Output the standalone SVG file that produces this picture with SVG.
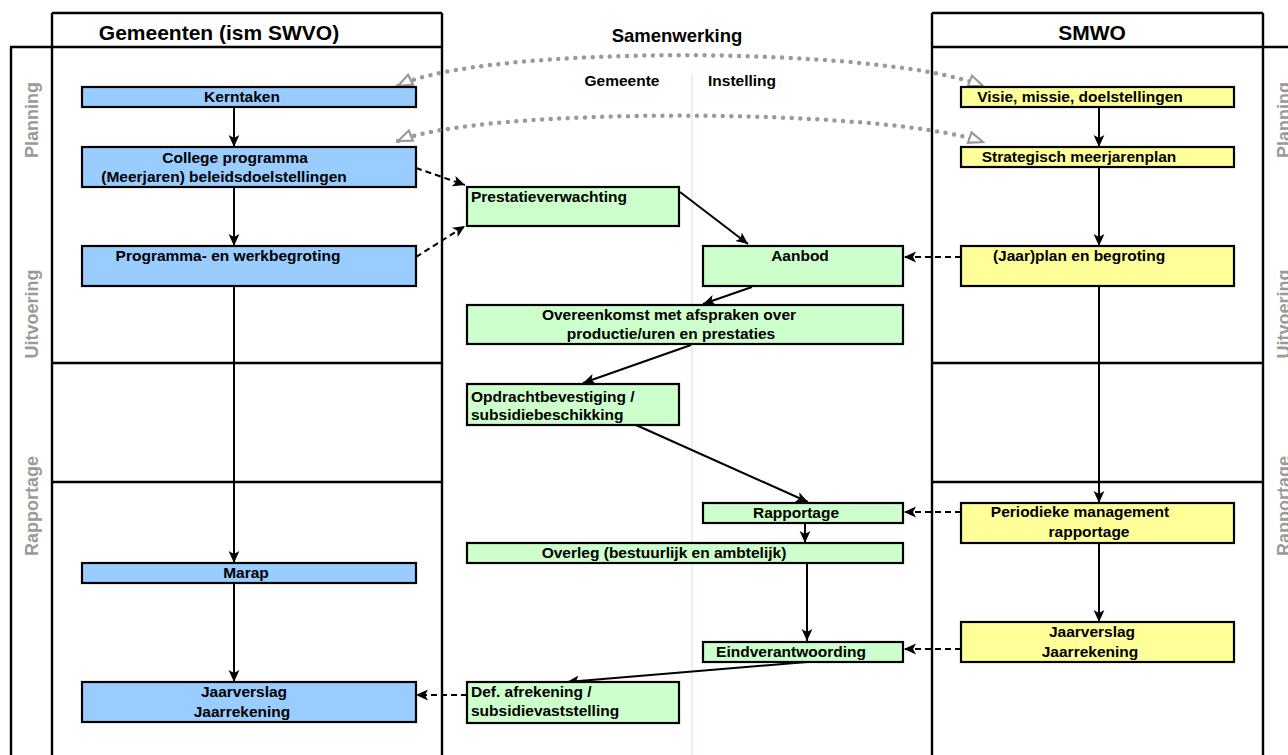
<svg xmlns="http://www.w3.org/2000/svg" width="1288" height="755" viewBox="0 0 1288 755">
<defs>
<style>
.frame{stroke:#000;stroke-width:2.4;fill:none}
.node rect{stroke:#000;stroke-width:2.2}
.blue{fill:#99ccff}
.green{fill:#ccffcc}
.yellow{fill:#ffff99}
text{font-family:"Liberation Sans",Arial,sans-serif;font-weight:bold;fill:#000}
.t{font-size:15.5px}
.mid{text-anchor:middle}
.phase{font-size:18px;fill:#9a9a9a;text-anchor:middle}
.solid{stroke:#000;stroke-width:2;fill:none;marker-end:url(#ah)}
.dash{stroke:#000;stroke-width:2;fill:none;stroke-dasharray:6 4;marker-end:url(#ah)}
.dots{stroke:#9a9a9a;stroke-width:4.5;fill:none;stroke-linecap:round;stroke-dasharray:0 8.6;marker-start:url(#gh);marker-end:url(#gh)}
</style>
<marker id="ah" markerUnits="userSpaceOnUse" markerWidth="12" markerHeight="12" viewBox="0 0 10 10" refX="10" refY="5" orient="auto">
<path d="M0,0.5 L10,5 L0,9.5 L2.5,5 z" fill="#000"/>
</marker>
<marker id="gh" markerUnits="userSpaceOnUse" markerWidth="18" markerHeight="14" viewBox="0 0 18 14" refX="16" refY="7" orient="auto-start-reverse">
<path d="M2,1.5 L16,7 L2,12.5 z" fill="#fff" stroke="#9a9a9a" stroke-width="2.2"/>
</marker>
</defs>
<rect x="0" y="0" width="1288" height="755" fill="#fff"/>

<g id="frame">
<line class="frame" x1="11" y1="47" x2="11" y2="760"/>
<line class="frame" x1="52" y1="13" x2="52" y2="760"/>
<line class="frame" x1="442" y1="13" x2="442" y2="760"/>
<line class="frame" x1="52" y1="13" x2="442" y2="13"/>
<line class="frame" x1="10" y1="47" x2="442" y2="47"/>
<line class="frame" x1="52" y1="363" x2="442" y2="363"/>
<line class="frame" x1="52" y1="482" x2="442" y2="482"/>
<line class="frame" x1="932" y1="13" x2="932" y2="760"/>
<line class="frame" x1="1263" y1="13" x2="1263" y2="760"/>
<line class="frame" x1="932" y1="13" x2="1263" y2="13"/>
<line class="frame" x1="932" y1="47" x2="1290" y2="47"/>
<line class="frame" x1="932" y1="363" x2="1263" y2="363"/>
<line class="frame" x1="932" y1="482" x2="1263" y2="482"/>
<line x1="692" y1="74" x2="692" y2="760" stroke="#c8f5c8" stroke-width="1.2"/>
<text x="219" y="40" class="mid" font-size="21">Gemeenten (ism SWVO)</text>
<text x="677" y="42" class="mid" font-size="18.5">Samenwerking</text>
<text x="1092" y="40" class="mid" font-size="21">SMWO</text>
<text x="622" y="86" class="t mid">Gemeente</text>
<text x="708" y="86" class="t">Instelling</text>
<text class="phase" transform="translate(38,120) rotate(-90)">Planning</text>
<text class="phase" transform="translate(38,314) rotate(-90)">Uitvoering</text>
<text class="phase" transform="translate(38,506) rotate(-90)">Rapportage</text>
<text class="phase" transform="translate(1289.5,120) rotate(-90)">Planning</text>
<text class="phase" transform="translate(1289.5,314) rotate(-90)">Uitvoering</text>
<text class="phase" transform="translate(1289.5,506) rotate(-90)">Rapportage</text>
</g>

<g id="connectors">
<path class="dots" d="M398,86 C480,45 880,45 983,86"/>
<path class="dots" d="M398,141 C480,107 880,107 983,142"/>
<line class="solid" x1="234" y1="107" x2="234" y2="147"/>
<line class="solid" x1="234" y1="187" x2="234" y2="246"/>
<line class="solid" x1="234" y1="286" x2="234" y2="563"/>
<line class="solid" x1="234" y1="583" x2="234" y2="682"/>
<line class="solid" x1="1099" y1="107" x2="1099" y2="147"/>
<line class="solid" x1="1099" y1="167" x2="1099" y2="246"/>
<line class="solid" x1="1099" y1="286" x2="1099" y2="503"/>
<line class="solid" x1="1099" y1="543" x2="1099" y2="622"/>
<line class="dash" x1="416" y1="168" x2="465" y2="185"/>
<line class="dash" x1="416" y1="257" x2="465" y2="226"/>
<line class="solid" x1="680" y1="192" x2="748" y2="244"/>
<line class="solid" x1="752" y1="287" x2="703" y2="304"/>
<line class="solid" x1="691" y1="345" x2="583" y2="383"/>
<line class="solid" x1="636" y1="425" x2="808" y2="502"/>
<line class="solid" x1="805" y1="523" x2="805" y2="543"/>
<line class="solid" x1="807" y1="563" x2="807" y2="641"/>
<line class="solid" x1="807" y1="662" x2="567" y2="682"/>
<line class="dash" x1="961" y1="257" x2="904" y2="257"/>
<line class="dash" x1="961" y1="512" x2="904" y2="512"/>
<line class="dash" x1="961" y1="649" x2="904" y2="649"/>
<line class="dash" x1="467" y1="695" x2="416" y2="695"/>
</g>

<g id="kerntaken" class="node"><rect class="blue" x="82" y="87" width="334" height="20"/><text class="t mid" x="242" y="102">Kerntaken</text></g>
<g id="college" class="node"><rect class="blue" x="82" y="147" width="334" height="40"/><text class="t mid" x="235" y="163">College programma</text><text class="t mid" x="224" y="182">(Meerjaren) beleidsdoelstellingen</text></g>
<g id="programma" class="node"><rect class="blue" x="82" y="246" width="334" height="40"/><text class="t mid" x="228" y="261">Programma- en werkbegroting</text></g>
<g id="marap" class="node"><rect class="blue" x="82" y="563" width="334" height="20"/><text class="t mid" x="246" y="578">Marap</text></g>
<g id="jaarverslag-gem" class="node"><rect class="blue" x="82" y="682" width="334" height="40"/><text class="t mid" x="244" y="697">Jaarverslag</text><text class="t mid" x="242" y="717">Jaarrekening</text></g>

<g id="prestatieverwachting" class="node"><rect class="green" x="467" y="187" width="212" height="39"/><text class="t" x="471" y="202">Prestatieverwachting</text></g>
<g id="aanbod" class="node"><rect class="green" x="703" y="246" width="200" height="40"/><text class="t mid" x="800" y="261">Aanbod</text></g>
<g id="overeenkomst" class="node"><rect class="green" x="467" y="305" width="436" height="39"/><text class="t mid" x="669" y="320">Overeenkomst met afspraken over</text><text class="t mid" x="671" y="339">productie/uren en prestaties</text></g>
<g id="opdracht" class="node"><rect class="green" x="467" y="384" width="212" height="41"/><text class="t" x="471" y="402">Opdrachtbevestiging /</text><text class="t" x="471" y="420">subsidiebeschikking</text></g>
<g id="rapportage" class="node"><rect class="green" x="703" y="503" width="200" height="20"/><text class="t mid" x="796" y="518">Rapportage</text></g>
<g id="overleg" class="node"><rect class="green" x="467" y="543" width="436" height="20"/><text class="t mid" x="664" y="558">Overleg (bestuurlijk en ambtelijk)</text></g>
<g id="eindverantwoording" class="node"><rect class="green" x="703" y="642" width="200" height="20"/><text class="t mid" x="791" y="657">Eindverantwoording</text></g>
<g id="afrekening" class="node"><rect class="green" x="467" y="682" width="212" height="41"/><text class="t" x="471" y="697">Def. afrekening /</text><text class="t" x="471" y="716">subsidievaststelling</text></g>

<g id="visie" class="node"><rect class="yellow" x="961" y="87" width="273" height="20"/><text class="t mid" x="1080" y="102">Visie, missie, doelstellingen</text></g>
<g id="strategisch" class="node"><rect class="yellow" x="961" y="147" width="273" height="20"/><text class="t mid" x="1079" y="162">Strategisch meerjarenplan</text></g>
<g id="jaarplan" class="node"><rect class="yellow" x="961" y="246" width="273" height="40"/><text class="t mid" x="1079" y="261">(Jaar)plan en begroting</text></g>
<g id="periodieke" class="node"><rect class="yellow" x="961" y="503" width="273" height="40"/><text class="t mid" x="1080" y="517">Periodieke management</text><text class="t mid" x="1089" y="537">rapportage</text></g>
<g id="jaarverslag-smwo" class="node"><rect class="yellow" x="961" y="622" width="273" height="40"/><text class="t mid" x="1092" y="637">Jaarverslag</text><text class="t mid" x="1090" y="657">Jaarrekening</text></g>
</svg>
